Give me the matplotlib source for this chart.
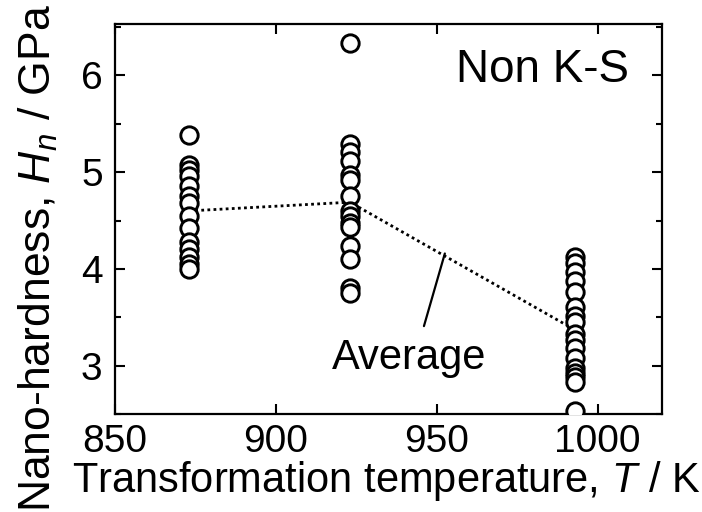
import matplotlib
matplotlib.use("Agg")
import matplotlib.pyplot as plt
from matplotlib.ticker import MultipleLocator

plt.rcParams["font.family"] = ["Liberation Sans", "DejaVu Sans"]
plt.rcParams["mathtext.fontset"] = "custom"
plt.rcParams["mathtext.rm"] = "Liberation Sans"
plt.rcParams["mathtext.it"] = "Liberation Sans:italic"

# transformation temperatures (K)
temps = [873, 923, 993]

hn_873 = [5.38, 5.07, 5.02, 4.96, 4.86, 4.75, 4.68, 4.55, 4.42, 4.28, 4.21, 4.12, 4.05, 4.00]
hn_923 = [6.33, 5.29, 5.21, 5.12, 4.97, 4.92, 4.75, 4.60, 4.55, 4.48, 4.43, 4.24, 4.10, 3.80, 3.75]
hn_993 = [4.12, 4.06, 3.97, 3.88, 3.76, 3.61, 3.51, 3.45, 3.33, 3.27, 3.18, 3.08, 2.98, 2.93, 2.88, 2.83, 2.53]

# averages
hn_avg = [4.60, 4.69, 3.37]


def main() -> None:
    fig = plt.figure(figsize=(7.02, 5.12), dpi=100)
    ax = fig.add_axes([0.164, 0.191, 0.779, 0.762])

    for t, vals in zip(temps, [hn_873, hn_923, hn_993]):
        ax.plot([t] * len(vals), vals, "o", ls="none", ms=12.5, mfc="white",
                mec="black", mew=2.1, zorder=3)

    ax.plot(temps, hn_avg, ls=(0, (1, 1.2)), color="black", lw=2.0, zorder=2)

    ax.annotate("", xy=(952.5, 4.16), xytext=(946.0, 3.41),
                arrowprops=dict(arrowstyle="-", lw=1.6, color="black",
                                shrinkA=0, shrinkB=0))
    ax.text(941.5, 2.97, "Average", fontsize=30, ha="center", va="baseline")
    ax.text(983.0, 5.93, "Non K-S", fontsize=33, ha="center", va="baseline")

    ax.set_xlim(850, 1020)
    ax.set_ylim(2.5, 6.53)
    ax.xaxis.set_major_locator(MultipleLocator(50))
    ax.yaxis.set_major_locator(MultipleLocator(1))
    ax.yaxis.set_minor_locator(MultipleLocator(0.5))
    ax.tick_params(which="both", direction="in", top=True, right=True,
                   width=1.5, labelsize=28)
    ax.tick_params(which="major", length=7.5)
    ax.tick_params(which="minor", length=4)
    ax.tick_params(axis="x", pad=7)
    ax.tick_params(axis="y", pad=9)
    for s in ax.spines.values():
        s.set_linewidth(1.6)

    ax.set_xlabel("Transformation temperature, $\\mathit{T}$ / K", fontsize=30)
    ax.set_ylabel("Nano-hardness, $\\mathit{H}_{\\mathit{n}}$ / GPa", fontsize=32)
    ax.xaxis.set_label_coords(0.495, -0.115)
    ax.yaxis.set_label_coords(-0.1, 0.40)

    fig.savefig("out.png", dpi=100)
    plt.close(fig)


if __name__ == "__main__":
    main()
